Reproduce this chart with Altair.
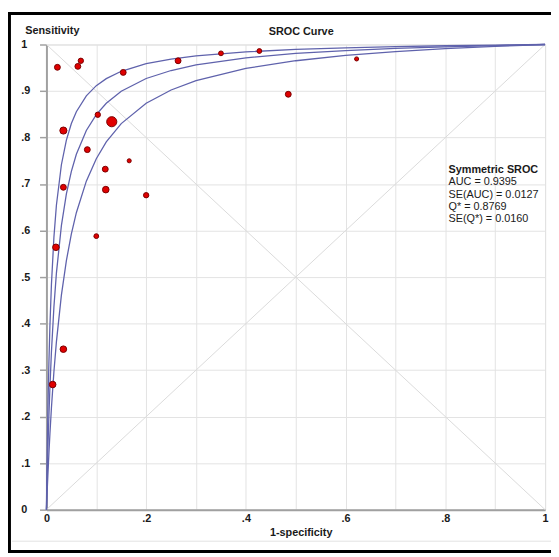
import altair as alt
import pandas as pd

# ---- study points (1-specificity, sensitivity, relative study weight) ----
fpr = [0.022, 0.063, 0.069, 0.154, 0.264, 0.350, 0.427, 0.622, 0.485, 0.103, 0.131,
       0.034, 0.082, 0.166, 0.118, 0.119, 0.034, 0.200, 0.100, 0.019, 0.034, 0.0125]
sens = [0.951, 0.953, 0.965, 0.940, 0.965, 0.981, 0.986, 0.969, 0.893, 0.849, 0.834,
        0.815, 0.774, 0.750, 0.732, 0.688, 0.693, 0.676, 0.588, 0.564, 0.345, 0.269]
weight = [10.9, 10.9, 9.0, 10.9, 10.9, 7.3, 7.3, 5.3, 10.9, 9.0, 32.5,
          16.0, 10.9, 5.3, 10.9, 13.7, 10.9, 9.0, 7.3, 13.7, 13.7, 13.7]

# ---- SROC curve and its bounds ----
curve_fpr = [0, 0.0005, 0.001, 0.002, 0.003, 0.005, 0.007, 0.01, 0.015, 0.02,
             0.03, 0.04, 0.05, 0.06, 0.08, 0.1, 0.12, 0.15, 0.2, 0.25,
             0.3, 0.4, 0.5, 0.6, 0.7, 0.8, 0.9, 1.0]
curve_upper = [0, 0.0443, 0.0850, 0.1568, 0.2182, 0.3179, 0.3954, 0.4837, 0.5855, 0.6544,
               0.7415, 0.7944, 0.8300, 0.8555, 0.8897, 0.9116, 0.9267, 0.9424, 0.9587, 0.9687,
               0.9755, 0.9841, 0.9893, 0.9929, 0.9954, 0.9973, 0.9988, 1.0]
curve_sroc = [0, 0.0247, 0.0483, 0.0922, 0.1324, 0.2030, 0.2633, 0.3387, 0.4357, 0.5085,
              0.6106, 0.6787, 0.7274, 0.7639, 0.8151, 0.8492, 0.8736, 0.8995, 0.9269, 0.9441,
              0.9560, 0.9713, 0.9807, 0.9870, 0.9916, 0.9951, 0.9978, 1.0]
curve_lower = [0, 0.0136, 0.0269, 0.0525, 0.0768, 0.1220, 0.1632, 0.2184, 0.2964, 0.3608,
               0.4611, 0.5354, 0.5928, 0.6384, 0.7063, 0.7545, 0.7905, 0.8300, 0.8737, 0.9022,
               0.9222, 0.9486, 0.9651, 0.9765, 0.9847, 0.9910, 0.9960, 1.0]

# ---- reference diagonals ----
diag_x = [0, 1]
diag_up = [0, 1]
diag_down = [1, 0]

tick_values = [0, 0.1, 0.2, 0.3, 0.4, 0.5, 0.6, 0.7, 0.8, 0.9, 1.0]

chart_title = "SROC Curve"
x_title = "1-specificity"
y_title = "Sensitivity"
stats_title = "Symmetric SROC"
stats_lines = ["AUC = 0.9395", "SE(AUC) = 0.0127", "Q* = 0.8769", "SE(Q*) = 0.0160"]

FONT = "Liberation Sans"
TEXT = "#1a1a1a"

points_df = pd.DataFrame({"x": fpr, "y": sens, "w": weight})
curves_df = pd.concat([
    pd.DataFrame({"x": curve_fpr, "y": curve_upper, "c": "upper"}),
    pd.DataFrame({"x": curve_fpr, "y": curve_sroc, "c": "sroc"}),
    pd.DataFrame({"x": curve_fpr, "y": curve_lower, "c": "lower"}),
])
diag_df = pd.concat([
    pd.DataFrame({"x": diag_x, "y": diag_up, "c": "up"}),
    pd.DataFrame({"x": diag_x, "y": diag_down, "c": "down"}),
])
one = pd.DataFrame({"k": [0]})

x_enc = alt.X("x:Q", scale=alt.Scale(domain=[0, 1], nice=False, zero=False),
              axis=alt.Axis(values=tick_values,
                            labelExpr="abs(datum.value*5 - round(datum.value*5)) < 0.01 ? replace(format(datum.value, '.1~f'), '0.', '.') : ''",
                            grid=True, gridColor="#e3e3e3", gridWidth=1,
                            domainColor="#a0a0a0", domainWidth=2, ticks=False,
                            labelFont=FONT, labelFontSize=11, labelFontWeight="bold",
                            labelColor=TEXT, labelPadding=3, labelFlush=False,
                            title=x_title, titleFont=FONT, titleFontSize=11,
                            titleFontWeight="bold", titleColor=TEXT, titlePadding=3,
                            titleX=258, titleAlign="center"))
y_enc = alt.Y("y:Q", scale=alt.Scale(domain=[0, 1], nice=False, zero=False),
              axis=alt.Axis(values=tick_values,
                            labelExpr="replace(format(datum.value, '.1~f'), '0.', '.')",
                            grid=True, gridColor="#e3e3e3", gridWidth=1,
                            domainColor="#a0a0a0", domainWidth=2,
                            tickSize=7, tickColor="#a0a0a0", tickWidth=1.5,
                            labelFont=FONT, labelFontSize=11, labelFontWeight="bold",
                            labelColor=TEXT, labelAlign="left", labelPadding=19,
                            labelFlush=False,
                            title=y_title, titleFont=FONT, titleFontSize=11,
                            titleFontWeight="bold", titleColor=TEXT, titleAngle=0,
                            titleX=-22, titleY=-14, titleAlign="left",
                            titleBaseline="middle"))

diag = alt.Chart(diag_df).mark_line(color="#dadada", strokeWidth=1).encode(
    x=x_enc, y=y_enc, detail="c:N")

curves = alt.Chart(curves_df).mark_line(color="#5f62ac", strokeWidth=1.3).encode(
    x=x_enc, y=y_enc, detail="c:N", order="x:Q")

points = alt.Chart(points_df).mark_circle(
    color="#e00000", opacity=1, stroke="#7a0000", strokeWidth=1).encode(
    x=x_enc, y=y_enc,
    size=alt.Size("w:Q", scale=alt.Scale(domain=[0, 32.5], range=[0, 106]), legend=None))

title_mark = alt.Chart(one).mark_text(
    text=chart_title, font=FONT, fontSize=11, fontWeight="bold", color=TEXT,
    align="center", baseline="middle").encode(x=alt.value(258.5), y=alt.value(-13))

stats_layers = [alt.Chart(one).mark_text(
    text=stats_title, font=FONT, fontSize=11, fontWeight="bold", color=TEXT,
    align="left", baseline="middle").encode(x=alt.value(408), y=alt.value(127.3))]
for i, line in enumerate(stats_lines):
    stats_layers.append(alt.Chart(one).mark_text(
        text=line, font=FONT, fontSize=11, color=TEXT,
        align="left", baseline="middle").encode(
        x=alt.value(408), y=alt.value(139.8 + i * 12.6)))

frame_left = alt.Chart(one).mark_rule(color="black", strokeWidth=3).encode(
    x=alt.value(-37.5), y=alt.value(-33), y2=alt.value(516))
frame_top = alt.Chart(one).mark_rule(color="black", strokeWidth=3).encode(
    x=alt.value(-39), x2=alt.value(520), y=alt.value(-31.5))
frame_bottom = alt.Chart(one).mark_rule(color="black", strokeWidth=3).encode(
    x=alt.value(-39), x2=alt.value(520), y=alt.value(514.5))
inner_line = alt.Chart(one).mark_rule(color="#e2e2e2", strokeWidth=1).encode(
    x=alt.value(-35), x2=alt.value(520), y=alt.value(504))

chart = alt.layer(
    diag, curves, points, title_mark, *stats_layers,
    inner_line, frame_left, frame_top, frame_bottom
).properties(
    width=506, height=472,
    autosize=alt.AutoSizeParams(type="none"),
    padding={"left": 39, "top": 33, "right": 6, "bottom": 44},
).configure_view(
    stroke="#a8a8a8", strokeWidth=2
).configure(background="white")

chart.save("out.html", embed_options={"renderer": "svg", "actions": False})
